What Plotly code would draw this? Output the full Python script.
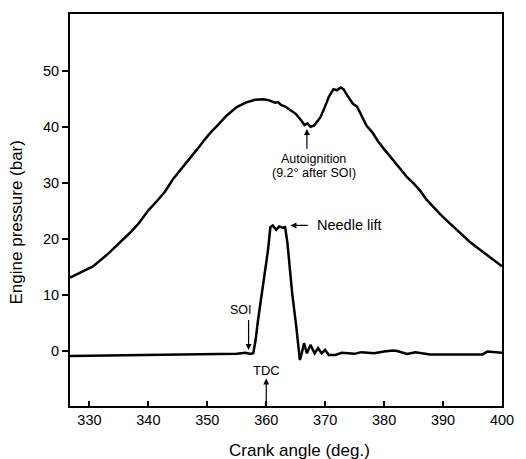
import plotly.graph_objects as go

# Cylinder pressure trace (bar) vs crank angle (deg.)
pressure_angle = [326.7, 328.5, 330.6, 333.0, 335.0, 336.8, 338.3, 340.0, 341.5, 342.8,
                  344.2, 345.8, 347.2, 348.3, 349.4, 350.5, 351.7, 353.3, 355.0, 356.5,
                  358.1, 359.5, 360.5, 361.5, 362.0, 362.5, 363.2, 364.0, 365.0, 365.8,
                  366.5, 367.0, 367.5, 368.1, 368.6, 369.2, 369.9, 370.6, 371.4, 372.0,
                  372.6, 373.1, 373.8, 374.7, 375.4, 376.2, 377.0, 378.0, 378.9, 380.0,
                  381.1, 382.4, 383.9, 385.0, 386.1, 387.2, 388.3, 389.5, 390.6, 392.0,
                  393.3, 394.5, 395.6, 397.0, 398.3, 399.3, 400.0]
pressure_bar = [13.1, 14.0, 15.1, 17.2, 19.2, 21.0, 22.7, 25.1, 26.8, 28.4,
                30.7, 32.7, 34.6, 36.0, 37.5, 38.9, 40.2, 42.0, 43.5, 44.3,
                44.8, 44.9, 44.7, 44.3, 44.4, 43.9, 43.6, 43.0, 42.3, 41.3,
                40.3, 40.6, 40.0, 40.2, 40.9, 41.7, 43.4, 45.3, 46.7, 46.5,
                47.0, 46.7, 45.5, 44.1, 43.6, 41.8, 40.2, 39.0, 37.5, 36.0,
                34.6, 32.8, 31.0, 29.9, 28.6, 27.0, 25.7, 24.4, 23.3, 21.9,
                20.6, 19.5, 18.6, 17.5, 16.5, 15.6, 15.1]

# Needle lift trace (same vertical scale)
needle_angle = [326.7, 330.0, 337.0, 343.0, 350.0, 355.0, 356.5, 357.3, 357.8, 358.2,
                358.6, 359.0, 359.4, 359.9, 360.3, 360.7, 361.1, 361.7, 362.2, 362.8,
                363.2, 363.6, 364.0, 364.4, 365.1, 365.5, 365.7, 366.0, 366.4, 366.9,
                367.5, 368.2, 368.8, 369.4, 370.0, 370.6, 371.7, 372.8, 375.0, 376.1,
                378.3, 380.0, 381.5, 382.2, 383.9, 385.3, 387.8, 392.0, 396.7, 397.5,
                400.0]
needle_val = [-0.9, -0.85, -0.7, -0.65, -0.6, -0.5, -0.3, -0.5, -0.4, 2.0,
              5.5, 8.5, 11.4, 15.0, 18.0, 22.1, 22.4, 21.6, 22.2, 22.0,
              22.1, 19.2, 14.5, 10.3, 4.3, 0.5, -1.6, -0.5, 1.4, -0.4,
              1.1, -0.4, 0.5, -0.4, 0.2, -0.7, -0.7, -0.3, -0.5, -0.2,
              -0.4, -0.1, 0.1, 0.0, -0.5, -0.2, -0.6, -0.6, -0.6, -0.1,
              -0.3]

x_ticks = [330, 340, 350, 360, 370, 380, 390, 400]
y_ticks = [0, 10, 20, 30, 40, 50]

font = "Liberation Sans, Arial, Helvetica, sans-serif"
W, H = 526, 459
L, R, T, B = 70, 16, 13, 53
PW, PH = W - L - R, H - T - B

fig = go.Figure()
fig.add_trace(go.Scatter(x=pressure_angle, y=pressure_bar, mode="lines",
                         line=dict(color="black", width=2.5), showlegend=False))
fig.add_trace(go.Scatter(x=needle_angle, y=needle_val, mode="lines",
                         line=dict(color="black", width=2.5), showlegend=False))

arrow = dict(xref="x", yref="y", axref="x", ayref="y", text="", showarrow=True,
             arrowhead=2, arrowsize=1, arrowwidth=1.2, arrowcolor="black")
# Autoignition
fig.add_annotation(x=366.9, y=39.6, ax=366.9, ay=35.8, **arrow)
fig.add_annotation(x=368.1, y=34.2, text="Autoignition", showarrow=False,
                   font=dict(family=font, size=12.5, color="black"), yanchor="middle")
fig.add_annotation(x=368.1, y=31.7, text="(9.2° after SOI)", showarrow=False,
                   font=dict(family=font, size=12.5, color="black"), yanchor="middle")
# Needle lift
fig.add_annotation(x=364.1, y=22.4, ax=367.3, ay=22.4, **arrow)
fig.add_annotation(x=368.2, y=22.4, text="Needle lift", showarrow=False,
                   font=dict(family=font, size=14.5, color="black"),
                   xanchor="left", yanchor="middle")
# SOI
fig.add_annotation(x=357.0, y=0.2, ax=357.0, ay=5.8, **arrow)
fig.add_annotation(x=355.7, y=7.4, text="SOI", showarrow=False,
                   font=dict(family=font, size=12.5, color="black"), yanchor="middle")
# TDC
fig.add_annotation(x=360.0, y=-4.9, ax=360.0, ay=-9.8, **arrow)
fig.add_annotation(x=360.0, y=-3.4, text="TDC", showarrow=False,
                   font=dict(family=font, size=13, color="black"), yanchor="middle")

# Axis titles placed in paper coordinates
fig.add_annotation(x=(304 - L) / PW, y=-(451 - (T + PH)) / PH, xref="paper", yref="paper",
                   text="Crank angle (deg.)", showarrow=False, xanchor="center",
                   yanchor="middle", font=dict(family=font, size=17, color="black"))
fig.add_annotation(x=-(L - 15) / PW, y=((T + PH) - 222) / PH, xref="paper", yref="paper",
                   text="Engine pressure (bar)", textangle=-90, showarrow=False,
                   xanchor="center", yanchor="middle",
                   font=dict(family=font, size=17, color="black"))

fig.update_layout(
    width=W, height=H,
    margin=dict(l=L, r=R, t=T, b=B),
    paper_bgcolor="white", plot_bgcolor="white",
    font=dict(family=font, size=14, color="black"),
    xaxis=dict(range=[326.7, 400], tickvals=x_ticks, ticks="inside", ticklen=5,
               tickwidth=1.5, tickcolor="black", showgrid=False, zeroline=False,
               showline=True, linecolor="black", linewidth=2, mirror=True,
               tickfont=dict(family=font, size=14.5)),
    yaxis=dict(range=[-9.8, 60.1], tickvals=y_ticks, ticks="outside", ticklen=6,
               tickwidth=1.5, tickcolor="black", showgrid=False, zeroline=False,
               showline=True, linecolor="black", linewidth=2, mirror=True,
               tickfont=dict(family=font, size=14.5)),
)

fig.write_html("out.html", config={"displayModeBar": False},
               post_script="document.body.style.margin='0';")
